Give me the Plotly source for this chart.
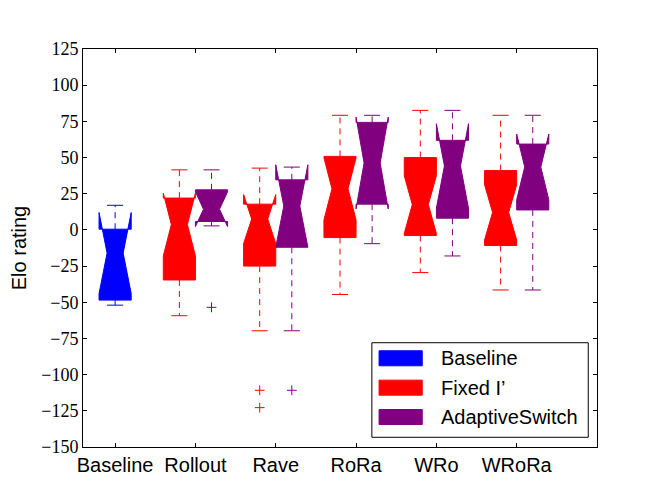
import plotly.graph_objects as go

# ---------------- data ----------------
categories = ["Baseline", "Rollout", "Rave", "RoRa", "WRo", "WRoRa"]
series_names = ["Baseline", "Fixed I’", "AdaptiveSwitch"]
series_colors = ["#0000ff", "#ff0000", "#800080"]

# Baseline series (only the Baseline category)
baseline_cats = ["Baseline"]
baseline_q1 = [-48.5]
baseline_median = [-16.0]
baseline_q3 = [0.5]
baseline_low = [-52.0]
baseline_high = [17.0]
baseline_notch = [28.0]
baseline_fliers_cat = []
baseline_fliers_val = []

# Fixed I' series
fixed_cats = ["Rollout", "Rave", "RoRa", "WRo", "WRoRa"]
fixed_q1 = [-34.6, -25.0, -5.3, -3.9, -10.8]
fixed_median = [3.7, 7.5, 28.4, 17.5, 12.1]
fixed_q3 = [22.0, 17.8, 50.8, 50.0, 41.0]
fixed_low = [-59.3, -69.7, -44.6, -29.5, -41.5]
fixed_high = [41.5, 42.7, 79.2, 82.6, 79.2]
fixed_notch = [21.7, 16.9, 21.5, 20.0, 19.1]
fixed_fliers_cat = ["Rave", "Rave"]
fixed_fliers_val = [-110.8, -122.8]

# AdaptiveSwitch series
adaptive_cats = ["Rollout", "Rave", "RoRa", "WRo", "WRoRa"]
adaptive_q1 = [5.8, -12.0, 17.8, 8.1, 13.8]
adaptive_median = [14.3, 16.5, 46.2, 44.2, 43.5]
adaptive_q3 = [27.7, 34.6, 74.3, 61.9, 59.3]
adaptive_low = [2.8, -69.7, -9.5, -18.0, -41.5]
adaptive_high = [41.5, 43.4, 79.2, 82.6, 79.2]
adaptive_notch = [12.0, 28.5, 31.7, 29.2, 22.7]
adaptive_fliers_cat = ["Rollout", "Rave"]
adaptive_fliers_val = [-53.5, -110.8]

# ---------------- layout helpers ----------------
series_offsets = [0.0, -0.2, 0.2]
BOX_W = 0.4
CAP_HALF = 0.1
cat_pos = {c: i + 1 for i, c in enumerate(categories)}

series = [
    (baseline_cats, baseline_q1, baseline_median, baseline_q3, baseline_low,
     baseline_high, baseline_notch, baseline_fliers_cat, baseline_fliers_val),
    (fixed_cats, fixed_q1, fixed_median, fixed_q3, fixed_low,
     fixed_high, fixed_notch, fixed_fliers_cat, fixed_fliers_val),
    (adaptive_cats, adaptive_q1, adaptive_median, adaptive_q3, adaptive_low,
     adaptive_high, adaptive_notch, adaptive_fliers_cat, adaptive_fliers_val),
]

fig = go.Figure()

for (cats, q1, med, q3, lo, hi, notch, fc, fv), name, color, off in zip(
        series, series_names, series_colors, series_offsets):
    pos = [cat_pos[c] + off for c in cats]
    # notched box body (whiskers drawn separately as dashed lines)
    fig.add_trace(go.Box(
        x=pos, q1=q1, median=med, q3=q3,
        lowerfence=q1, upperfence=q3, notchspan=notch,
        notched=True, notchwidth=0.25, width=BOX_W, whiskerwidth=0,
        fillcolor=color, line=dict(color=color, width=1),
        name=name, showlegend=False, hoverinfo="skip",
    ))
    # dashed whiskers and solid caps
    wx, wy = [], []
    cx, cy = [], []
    for p, a, b, l, h in zip(pos, q1, q3, lo, hi):
        wx += [p, p, None, p, p, None]
        wy += [b, h, None, a, l, None]
        cx += [p - CAP_HALF, p + CAP_HALF, None, p - CAP_HALF, p + CAP_HALF, None]
        cy += [h, h, None, l, l, None]
    fig.add_trace(go.Scatter(
        x=wx, y=wy, mode="lines",
        line=dict(color=color, width=1, dash="6px,5px"),
        showlegend=False, hoverinfo="skip",
    ))
    fig.add_trace(go.Scatter(
        x=cx, y=cy, mode="lines",
        line=dict(color=color, width=1),
        showlegend=False, hoverinfo="skip",
    ))
    if fc:
        fig.add_trace(go.Scatter(
            x=[cat_pos[c] + off for c in fc], y=fv, mode="markers",
            marker=dict(symbol="cross-thin", size=7,
                        line=dict(color=color, width=1)),
            showlegend=False, hoverinfo="skip",
        ))

# ---------------- matplotlib-style legend box ----------------
leg_x0, leg_x1, leg_y0, leg_y1 = 0.562, 0.983, 0.0244, 0.262
fig.add_shape(type="rect", xref="paper", yref="paper",
              x0=leg_x0, x1=leg_x1, y0=leg_y0, y1=leg_y1,
              line=dict(color="black", width=1), fillcolor="white", layer="above")
row_top, row_step, patch_h = 0.2229, 0.0738, 0.0377
for i, (name, color) in enumerate(zip(series_names, series_colors)):
    yc = row_top - i * row_step
    fig.add_shape(type="rect", xref="paper", yref="paper",
                  x0=0.576, x1=0.660, y0=yc - patch_h / 2, y1=yc + patch_h / 2,
                  line=dict(color=color, width=1), fillcolor=color, layer="above")
    fig.add_annotation(xref="paper", yref="paper", x=0.693, y=yc,
                       xanchor="left", yanchor="middle", text=name,
                       showarrow=False,
                       font=dict(family="Liberation Sans, Arial, sans-serif",
                                 size=20, color="black"))

fig.update_layout(
    width=664, height=498,
    margin=dict(l=75, r=75, t=41, b=59, autoexpand=False),
    paper_bgcolor="white", plot_bgcolor="white",
    boxmode="overlay",
    showlegend=False,
    xaxis=dict(
        range=[0.6, 7.0], automargin=False,
        tickmode="array", tickvals=[cat_pos[c] for c in categories],
        ticktext=categories,
        ticks="inside", ticklen=4, tickcolor="black",
        showline=True, linecolor="black", linewidth=1, mirror="ticks",
        showgrid=False, zeroline=False,
        tickfont=dict(family="Liberation Sans, Arial, sans-serif", size=20, color="black"),
    ),
    yaxis=dict(
        range=[-150, 125], tick0=-150, dtick=25, automargin=False,
        ticks="inside", ticklen=4, tickcolor="black",
        showline=True, linecolor="black", linewidth=1, mirror="ticks",
        showgrid=False, zeroline=False,
        tickfont=dict(family="Liberation Serif, serif", size=18, color="black"),
        title=dict(text="Elo rating", standoff=17,
                   font=dict(family="Liberation Sans, Arial, sans-serif", size=20, color="black")),
    ),
)

fig.write_html("out.html")
